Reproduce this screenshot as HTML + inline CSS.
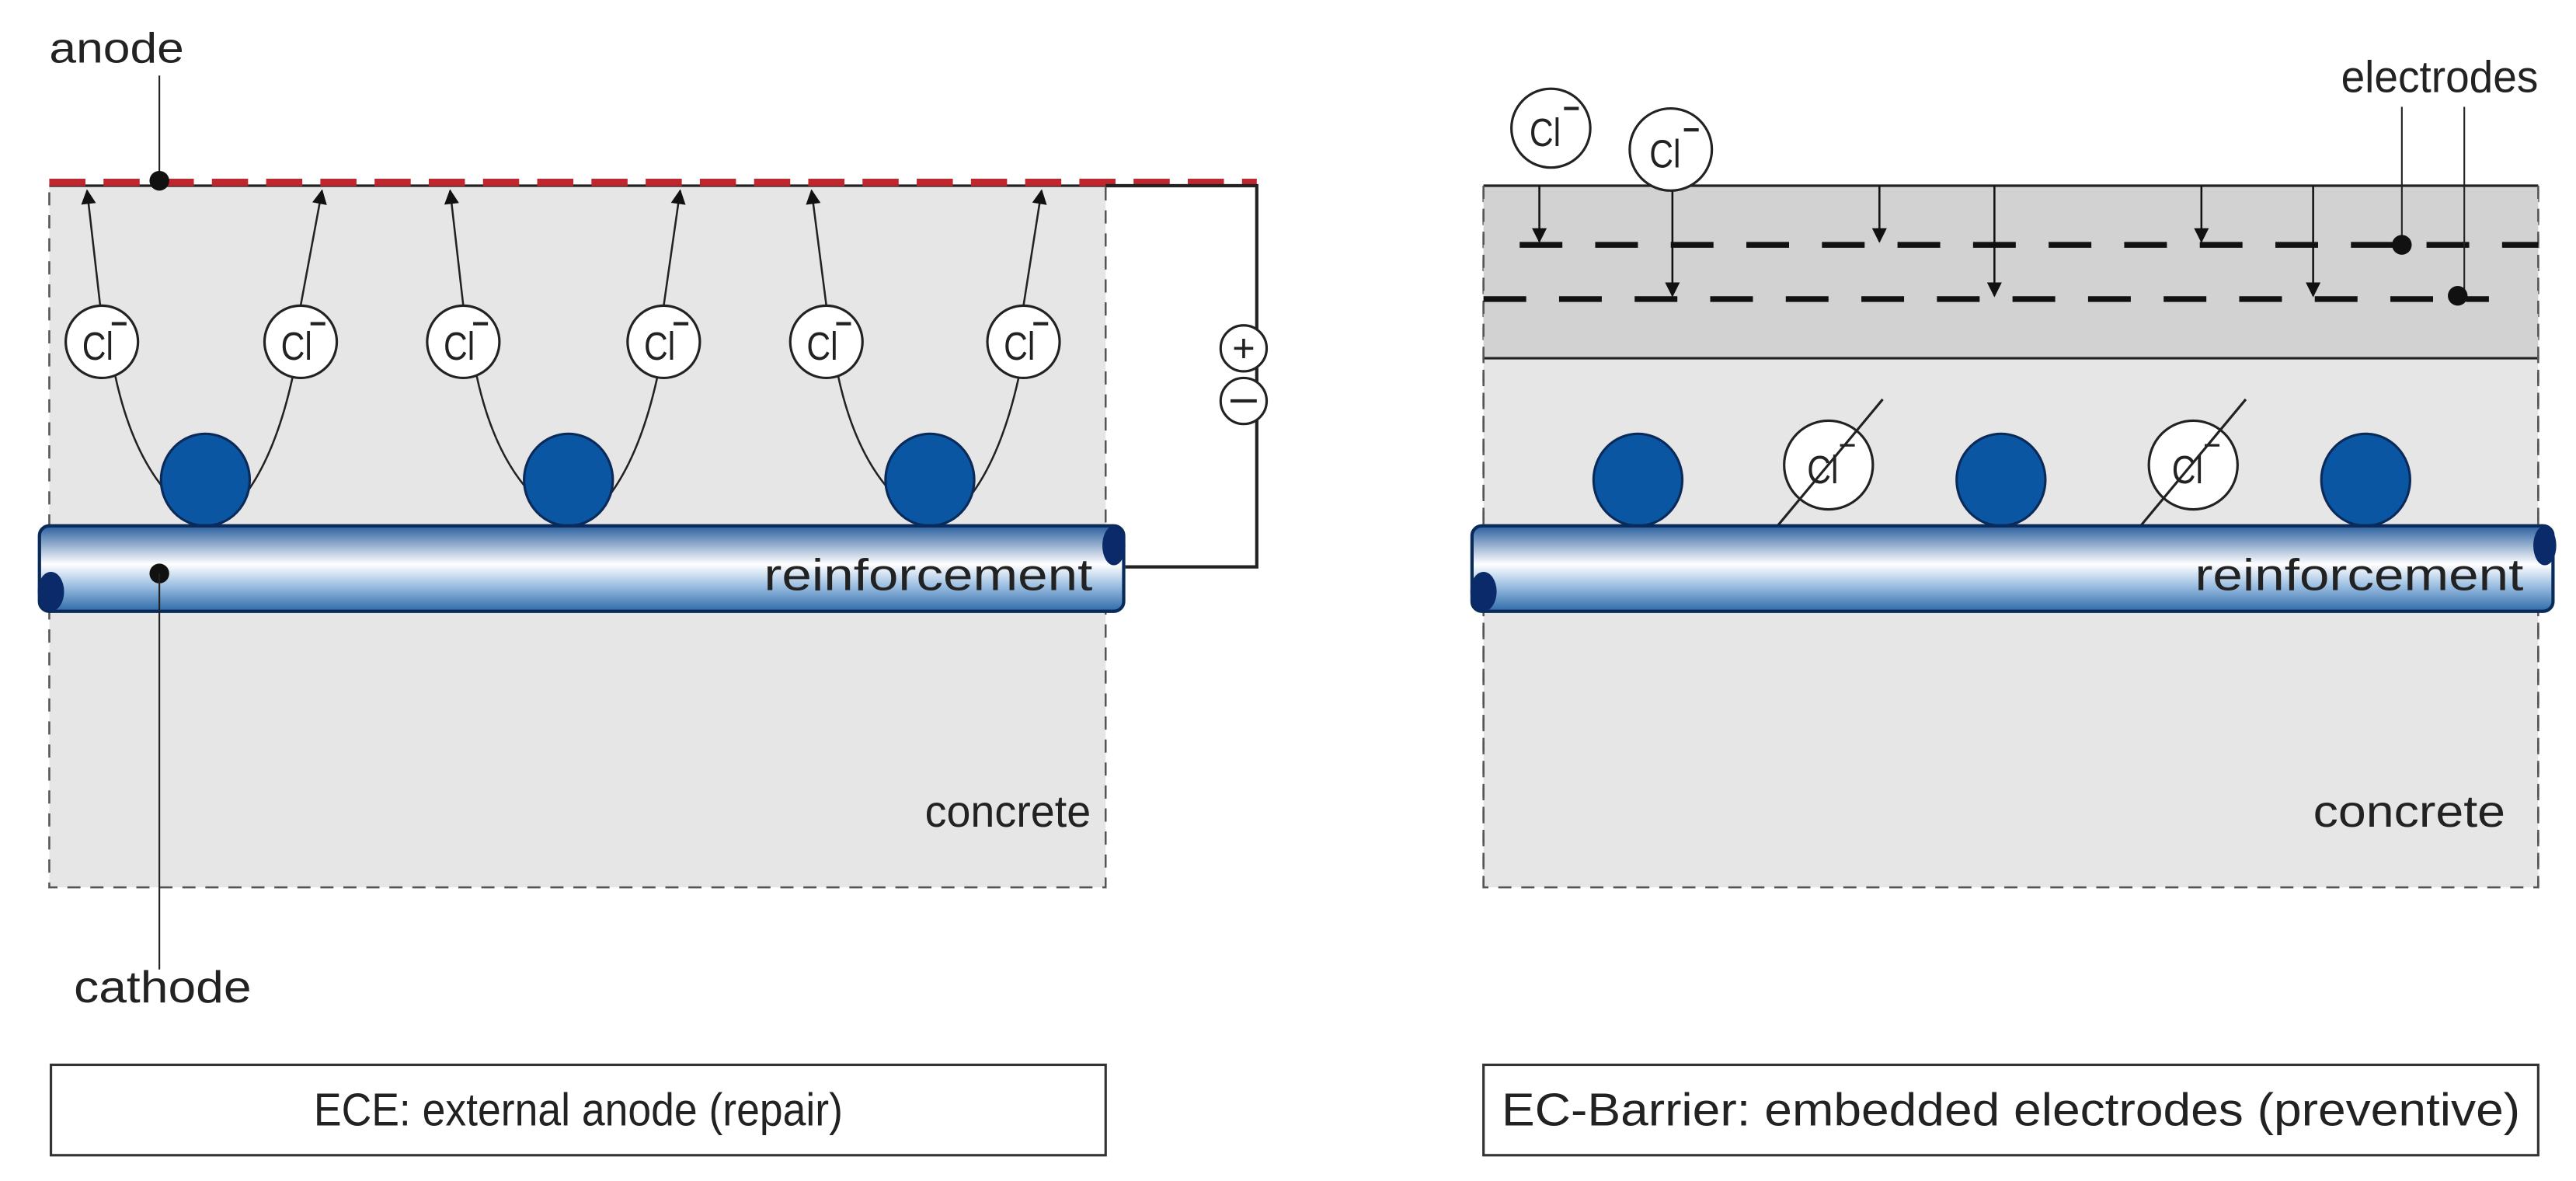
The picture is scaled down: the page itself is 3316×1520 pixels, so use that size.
<!DOCTYPE html>
<html><head><meta charset="utf-8"><style>html,body{margin:0;padding:0;background:#fff}svg{display:block}</style></head>
<body>
<svg width="3316" height="1520" viewBox="0 0 1568 718.7" preserveAspectRatio="none" xmlns="http://www.w3.org/2000/svg" font-family="Liberation Sans, sans-serif" fill="#222">
<defs>
<linearGradient id="rb" x1="0" y1="0" x2="0" y2="1">
<stop offset="0" stop-color="#2a5f9e"/><stop offset="0.45" stop-color="#ffffff"/><stop offset="0.7" stop-color="#9cbfe2"/><stop offset="1" stop-color="#2f6aa8"/>
</linearGradient>
<marker id="ah" viewBox="0 0 10 10" refX="9" refY="5" markerWidth="14" markerHeight="9" markerUnits="userSpaceOnUse" orient="auto-start-reverse"><path d="M0,0 L10,5 L0,10 z" fill="#111"/></marker>
</defs>
<!-- LEFT PANEL -->
<rect x="30" y="113" width="643" height="427" fill="#e6e6e6" stroke="#555" stroke-width="1.2" stroke-dasharray="8,6"/>
<line x1="30" y1="113" x2="673" y2="113" stroke="#222" stroke-width="1.5"/>
<line x1="30" y1="111" x2="765" y2="111" stroke="#c0262d" stroke-width="4.5" stroke-dasharray="22,11"/>
<text x="30" y="38" font-size="26" textLength="82" lengthAdjust="spacingAndGlyphs">anode</text>
<line x1="97" y1="46" x2="97" y2="110" stroke="#222" stroke-width="1"/>
<circle cx="97" cy="110" r="6" fill="#111"/>
<path d="M673,113 L765,113 L765,345 L685,345" fill="none" stroke="#222" stroke-width="2"/>
<circle cx="757" cy="212" r="14" fill="#fff" stroke="#222" stroke-width="1.5"/>
<text x="757" y="220" font-size="24" text-anchor="middle">+</text>
<circle cx="757" cy="244" r="14" fill="#fff" stroke="#222" stroke-width="1.5"/>
<line x1="749" y1="244" x2="765" y2="244" stroke="#222" stroke-width="2"/>
<g stroke="#222" stroke-width="1.2" fill="none">
<line x1="61" y1="186" x2="53" y2="116" marker-end="url(#ah)"/>
<line x1="183" y1="186" x2="196" y2="116" marker-end="url(#ah)"/>
<line x1="282" y1="186" x2="274" y2="116" marker-end="url(#ah)"/>
<line x1="404" y1="186" x2="414" y2="116" marker-end="url(#ah)"/>
<line x1="503" y1="186" x2="494" y2="116" marker-end="url(#ah)"/>
<line x1="623" y1="186" x2="634" y2="116" marker-end="url(#ah)"/>
<path d="M70,228 Q80,275 102,300"/><path d="M178,230 Q168,275 150,300"/>
<path d="M290,228 Q300,275 323,300"/><path d="M400,230 Q390,275 372,300"/>
<path d="M510,228 Q520,275 543,300"/><path d="M620,230 Q610,275 592,300"/>
</g>
<g stroke="#222" stroke-width="1.5" fill="#fff">
<circle cx="62" cy="208" r="22"/><circle cx="183" cy="208" r="22"/><circle cx="282" cy="208" r="22"/>
<circle cx="404" cy="208" r="22"/><circle cx="503" cy="208" r="22"/><circle cx="623" cy="208" r="22"/>
</g>
<g font-size="24">
<text x="50" y="219" textLength="19" lengthAdjust="spacingAndGlyphs">Cl</text><text x="171" y="219" textLength="19" lengthAdjust="spacingAndGlyphs">Cl</text><text x="270" y="219" textLength="19" lengthAdjust="spacingAndGlyphs">Cl</text>
<text x="392" y="219" textLength="19" lengthAdjust="spacingAndGlyphs">Cl</text><text x="491" y="219" textLength="19" lengthAdjust="spacingAndGlyphs">Cl</text><text x="611" y="219" textLength="19" lengthAdjust="spacingAndGlyphs">Cl</text>
</g>
<g stroke="#222" stroke-width="2">
<line x1="68" y1="197" x2="77" y2="197"/><line x1="189" y1="197" x2="198" y2="197"/><line x1="288" y1="197" x2="297" y2="197"/>
<line x1="410" y1="197" x2="419" y2="197"/><line x1="509" y1="197" x2="518" y2="197"/><line x1="629" y1="197" x2="638" y2="197"/>
</g>
<g fill="#0b56a3" stroke="#0a2a5a" stroke-width="1.5">
<ellipse cx="125" cy="292" rx="27" ry="28"/><ellipse cx="346" cy="292" rx="27" ry="28"/><ellipse cx="566" cy="292" rx="27" ry="28"/>
</g>
<rect x="24" y="320" width="660" height="52" rx="6" fill="url(#rb)" stroke="#0a2a5a" stroke-width="2"/>
<ellipse cx="31" cy="360" rx="8" ry="12" fill="#0a2a6a"/>
<ellipse cx="678" cy="332" rx="7" ry="12" fill="#0a2a6a"/>
<text x="665" y="359" font-size="27" text-anchor="end" textLength="200" lengthAdjust="spacingAndGlyphs">reinforcement</text>
<circle cx="97" cy="349" r="6" fill="#111"/>
<line x1="97" y1="349" x2="97" y2="590" stroke="#222" stroke-width="1"/>
<text x="664" y="503" font-size="27" text-anchor="end" textLength="101" lengthAdjust="spacingAndGlyphs">concrete</text>
<text x="45" y="610" font-size="27" textLength="108" lengthAdjust="spacingAndGlyphs">cathode</text>
<rect x="31" y="648" width="642" height="55" fill="#fff" stroke="#333" stroke-width="1.5"/>
<text x="352" y="685" font-size="28" text-anchor="middle" textLength="322" lengthAdjust="spacingAndGlyphs">ECE: external anode (repair)</text>
<!-- RIGHT PANEL -->
<rect x="903" y="113" width="642" height="427" fill="#e6e6e6" stroke="#555" stroke-width="1.2" stroke-dasharray="8,6"/>
<rect x="903" y="113" width="642" height="105" fill="#d2d2d2"/>
<line x1="903" y1="113" x2="1545" y2="113" stroke="#222" stroke-width="1.5"/>
<line x1="903" y1="218" x2="1545" y2="218" stroke="#222" stroke-width="1.5"/>
<line x1="903" y1="113" x2="903" y2="540" stroke="#555" stroke-width="1.2" stroke-dasharray="8,6"/>
<line x1="1545" y1="113" x2="1545" y2="540" stroke="#555" stroke-width="1.2" stroke-dasharray="8,6"/>
<line x1="925" y1="149" x2="1545" y2="149" stroke="#111" stroke-width="3.5" stroke-dasharray="26,20"/>
<line x1="903" y1="182" x2="1515" y2="182" stroke="#111" stroke-width="3.5" stroke-dasharray="26,20"/>
<g stroke="#111" stroke-width="1.2">
<line x1="937" y1="113" x2="937" y2="147" marker-end="url(#ah)"/>
<line x1="1144" y1="113" x2="1144" y2="147" marker-end="url(#ah)"/>
<line x1="1340" y1="113" x2="1340" y2="147" marker-end="url(#ah)"/>
<line x1="1018" y1="113" x2="1018" y2="180" marker-end="url(#ah)"/>
<line x1="1214" y1="113" x2="1214" y2="180" marker-end="url(#ah)"/>
<line x1="1408" y1="113" x2="1408" y2="180" marker-end="url(#ah)"/>
</g>
<g stroke="#222" stroke-width="1.5" fill="#fff">
<circle cx="944" cy="78" r="24"/><circle cx="1017" cy="91" r="25"/>
</g>
<text x="931" y="89" font-size="24" textLength="19" lengthAdjust="spacingAndGlyphs">Cl</text><text x="1004" y="102" font-size="24" textLength="19" lengthAdjust="spacingAndGlyphs">Cl</text>
<line x1="952" y1="66" x2="961" y2="66" stroke="#222" stroke-width="2"/>
<line x1="1025" y1="79" x2="1034" y2="79" stroke="#222" stroke-width="2"/>
<text x="1425" y="56" font-size="27" textLength="120" lengthAdjust="spacingAndGlyphs">electrodes</text>
<line x1="1462" y1="65" x2="1462" y2="149" stroke="#222" stroke-width="1"/>
<line x1="1500" y1="65" x2="1500" y2="180" stroke="#222" stroke-width="1"/>
<circle cx="1462" cy="149" r="6" fill="#111"/><circle cx="1496" cy="180" r="6" fill="#111"/>
<g fill="#0b56a3" stroke="#0a2a5a" stroke-width="1.5">
<ellipse cx="997" cy="292" rx="27" ry="28"/><ellipse cx="1218" cy="292" rx="27" ry="28"/><ellipse cx="1440" cy="292" rx="27" ry="28"/>
</g>
<g stroke="#222" stroke-width="1.5" fill="#fff">
<circle cx="1113" cy="283" r="27"/><circle cx="1335" cy="283" r="27"/>
</g>
<text x="1100" y="294" font-size="24" textLength="19" lengthAdjust="spacingAndGlyphs">Cl</text><text x="1322" y="294" font-size="24" textLength="19" lengthAdjust="spacingAndGlyphs">Cl</text>
<g stroke="#222" stroke-width="1.5">
<line x1="1120" y1="271" x2="1129" y2="271"/><line x1="1342" y1="271" x2="1351" y2="271"/>
<line x1="1077" y1="326" x2="1146" y2="243"/><line x1="1298" y1="326" x2="1367" y2="243"/>
</g>
<rect x="896" y="320" width="658" height="52" rx="6" fill="url(#rb)" stroke="#0a2a5a" stroke-width="2"/>
<ellipse cx="903" cy="360" rx="8" ry="12" fill="#0a2a6a"/>
<ellipse cx="1549" cy="332" rx="7" ry="12" fill="#0a2a6a"/>
<text x="1536" y="359" font-size="27" text-anchor="end" textLength="200" lengthAdjust="spacingAndGlyphs">reinforcement</text>
<text x="1525" y="503" font-size="27" text-anchor="end" textLength="117" lengthAdjust="spacingAndGlyphs">concrete</text>
<rect x="903" y="648" width="642" height="55" fill="#fff" stroke="#333" stroke-width="1.5"/>
<text x="1224" y="685" font-size="28" text-anchor="middle" textLength="620" lengthAdjust="spacingAndGlyphs">EC-Barrier:  embedded electrodes (preventive)</text>
</svg>
</body></html>
